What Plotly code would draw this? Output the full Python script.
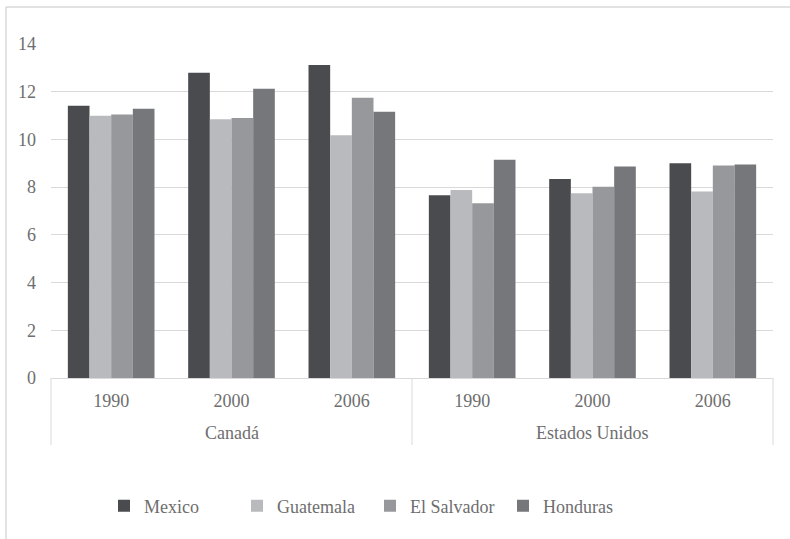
import plotly.graph_objects as go

regions = ["Canadá"] * 3 + ["Estados Unidos"] * 3
years = ["1990", "2000", "2006", "1990", "2000", "2006"]
region_labels = ["Canadá", "Estados Unidos"]

series_names = ["Mexico", "Guatemala", "El Salvador", "Honduras"]
mexico = [11.41, 12.80, 13.12, 7.66, 8.34, 9.00]
guatemala = [10.99, 10.85, 10.17, 7.88, 7.74, 7.82]
el_salvador = [11.04, 10.90, 11.75, 7.32, 8.02, 8.91]
honduras = [11.29, 12.12, 11.16, 9.15, 8.87, 8.95]
colors = ["#4a4b4f", "#b9babd", "#97989b", "#76777b"]

y_ticks = [0, 2, 4, 6, 8, 10, 12, 14]

FONT = "Times New Roman, Liberation Serif, serif"
TXT = "#6e6e6e"
GRID = "#d9d9d9"
FS = 18

cats = [f"{r} {y}" for r, y in zip(regions, years)]

fig = go.Figure()
for name, vals, col in zip(series_names, [mexico, guatemala, el_salvador, honduras], colors):
    fig.add_trace(go.Bar(
        x=cats, y=vals, name=name,
        marker=dict(color=col, line=dict(width=0)),
    ))

# plot area pixel geometry
L, R, T, B = 51, 773, 44, 378
W, H = 790, 539

def px_x(p):
    return (p - L) / (R - L)

def px_y(p):
    return (B - p) / (B - T)

n_groups = len(region_labels)
annotations = []
shapes = []
for i, lab in enumerate(region_labels):
    annotations.append(dict(
        text=lab, xref="paper", yref="paper",
        x=(i + 0.5) / n_groups, y=px_y(433), xanchor="center", yanchor="middle",
        showarrow=False, font=dict(family=FONT, size=FS, color=TXT),
    ))
for i in range(n_groups + 1):
    shapes.append(dict(
        type="line", xref="paper", yref="paper",
        x0=i / n_groups, x1=i / n_groups, y0=0, y1=px_y(445),
        line=dict(color=GRID, width=1),
    ))
# outer chart border (top and left visible)
shapes += [
    dict(type="line", xref="paper", yref="paper",
         x0=px_x(6), x1=px_x(792), y0=px_y(7), y1=px_y(7),
         line=dict(color=GRID, width=1.5)),
    dict(type="line", xref="paper", yref="paper",
         x0=px_x(6), x1=px_x(6), y0=px_y(7), y1=px_y(541),
         line=dict(color=GRID, width=1.5)),
]

fig.update_layout(
    width=W, height=H,
    margin=dict(l=L, r=W - R, t=T, b=H - B),
    paper_bgcolor="white", plot_bgcolor="white",
    barmode="group", bargap=0.28, bargroupgap=0,
    font=dict(family=FONT, size=FS, color=TXT),
    showlegend=True,
    legend=dict(
        orientation="h", x=px_x(370), xanchor="center",
        y=px_y(506), yanchor="middle",
        font=dict(family=FONT, size=FS, color=TXT),
        itemwidth=30, entrywidth=88, traceorder="normal",
    ),
    xaxis=dict(
        type="category", tickvals=cats, ticktext=years,
        showgrid=False, showline=True, linecolor=GRID, linewidth=1,
        ticks="", ticklabelstandoff=6,
        tickfont=dict(family=FONT, size=FS, color=TXT),
    ),
    yaxis=dict(
        range=[0, 14], tickvals=y_ticks, ticktext=[str(v) for v in y_ticks],
        showgrid=True, gridcolor=GRID, gridwidth=1,
        zeroline=False, showline=False, ticks="",
        ticklabelstandoff=14,
        tickfont=dict(family=FONT, size=FS, color=TXT),
    ),
    annotations=annotations,
    shapes=shapes,
)

fig.write_html("out.html")
